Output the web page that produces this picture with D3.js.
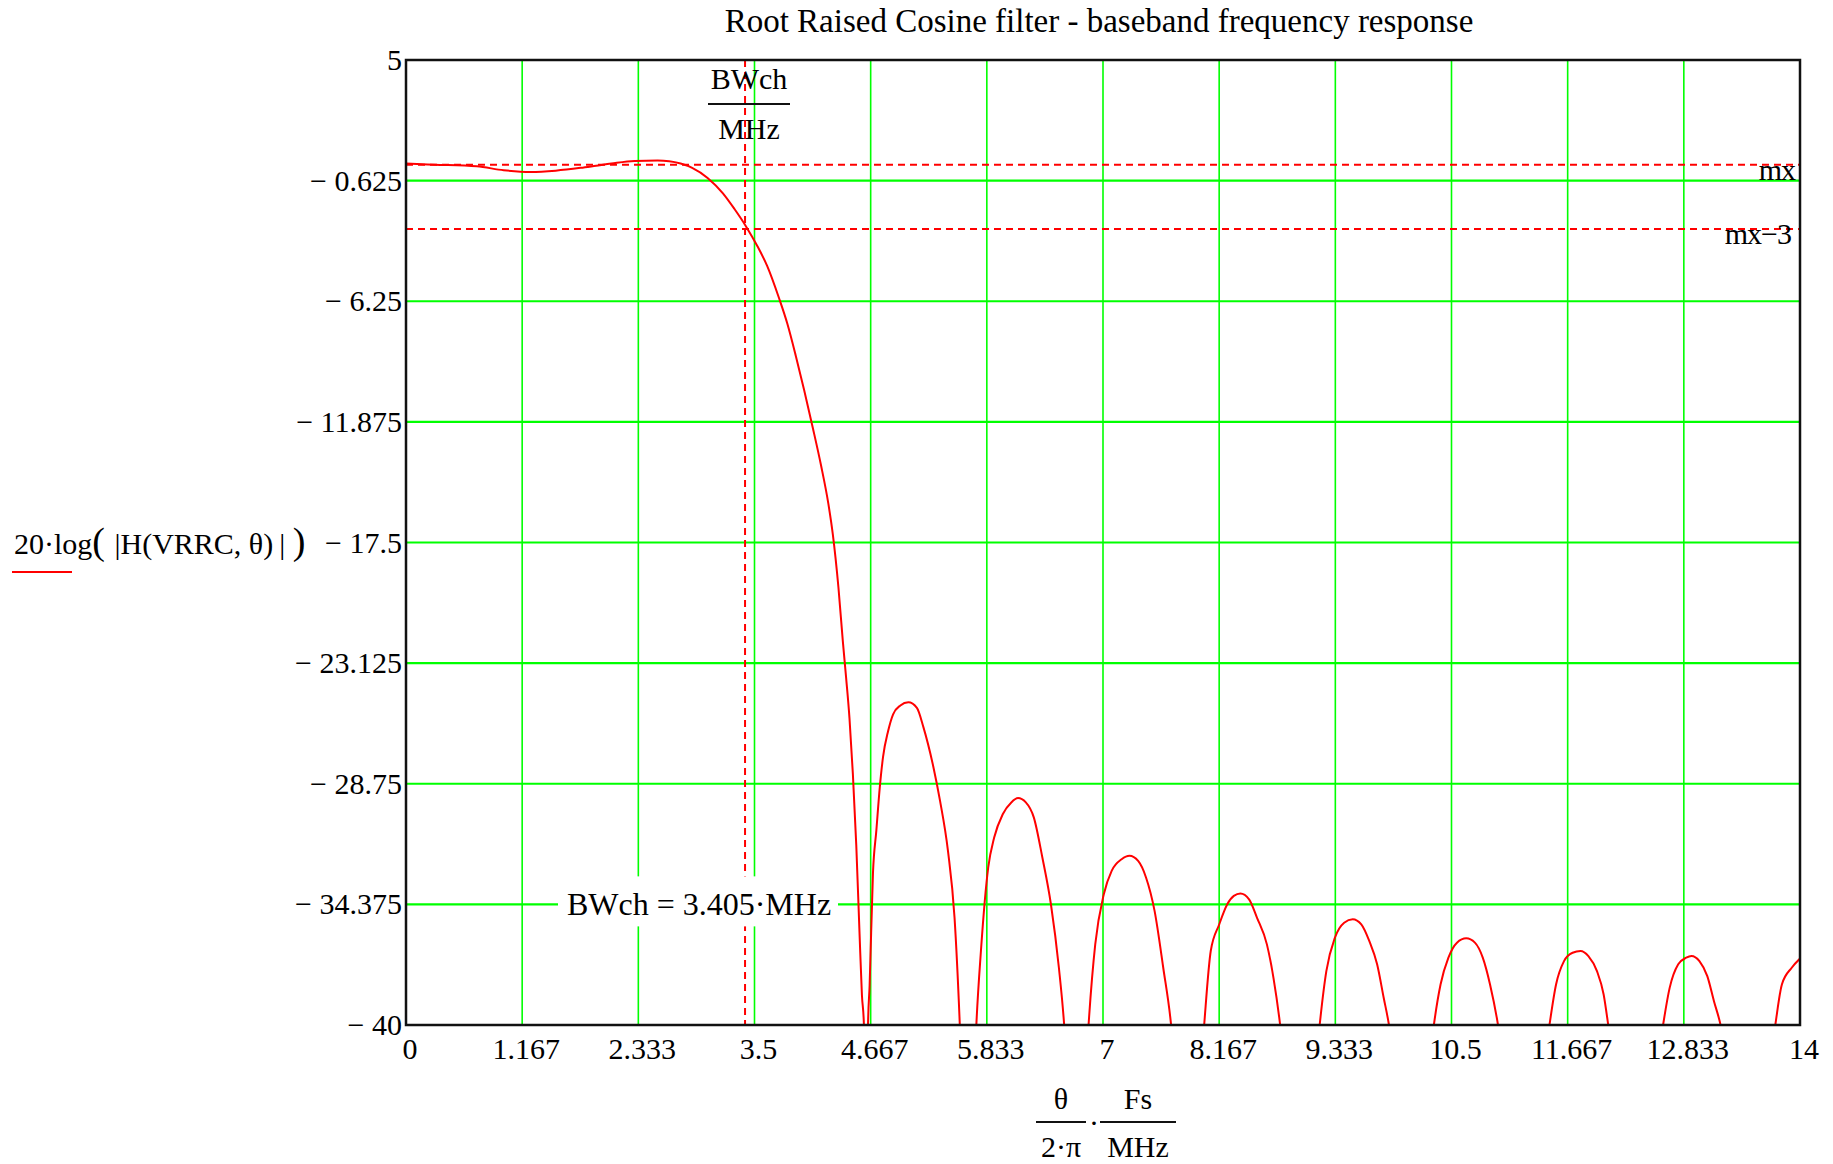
<!DOCTYPE html>
<html>
<head>
<meta charset="utf-8">
<script src="https://cdn.jsdelivr.net/npm/d3@7"></script>
<style>
body { margin: 0; background: #fff; }
text { font-family: "Liberation Serif", "Times New Roman", serif; fill: #000; }
</style>
</head>
<body>
<script>
// frequency (MHz)
const freq = [0, 0.286, 0.711, 0.981, 1.252, 1.503, 1.754, 1.909, 2.063, 2.295, 2.527, 2.643, 2.758, 2.874,
    3.029, 3.183, 3.299, 3.415, 3.531, 3.627, 3.746, 3.83, 3.915, 3.999, 4.083, 4.168, 4.242, 4.286, 4.343,
    4.387, 4.42, 4.454, 4.488, 4.522, 4.555, 4.579, 4.599, 4.62, 4.64, 4.656, 4.69, 4.724, 4.758, 4.791,
    4.842, 4.892, 4.965, 5.045, 5.131, 5.197, 5.297, 5.363, 5.443, 5.509, 5.562, 5.645, 5.728, 5.774,
    5.847, 5.907, 5.993, 6.079, 6.146, 6.225, 6.305, 6.391, 6.477, 6.557, 6.61, 6.73, 6.855, 6.922,
    7.008, 7.087, 7.187, 7.266, 7.353, 7.432, 7.518, 7.605, 7.684, 7.85, 8.016, 8.082, 8.168, 8.248,
    8.314, 8.38, 8.467, 8.546, 8.646, 8.712, 8.779, 8.98, 9.176, 9.243, 9.329, 9.422, 9.508, 9.594,
    9.674, 9.753, 9.819, 9.872, 10.1, 10.323, 10.39, 10.469, 10.555, 10.648, 10.735, 10.814, 10.887,
    10.967, 11.22, 11.484, 11.55, 11.63, 11.716, 11.796, 11.875, 11.961, 12.028, 12.074, 12.35, 12.625,
    12.691, 12.777, 12.857, 12.91, 12.99, 13.069, 13.136, 13.202, 13.48, 13.752, 13.818, 13.917, 14];

// 20*log|H| in dB, same order as freq (values under -40 are the nulls, clipped by the frame)
const gainDb = [0.17, 0.12, 0.04, -0.14, -0.22, -0.16, -0.03, 0.07, 0.17, 0.29, 0.31, 0.28, 0.17, -0.03,
    -0.5, -1.22, -1.95, -2.76, -3.7, -4.6, -6.1, -7.3, -8.8, -10.4, -12.1, -13.9, -15.7, -17.1, -19.6,
    -22.1, -23.8, -25.7, -28.3, -31.6, -35.75, -38.61, -40, -52, -40, -38.17, -32.89, -30.91, -28.93, -27.5,
    -26.29, -25.51, -25.1, -24.95, -25.21, -26.12, -27.98, -29.54, -31.88, -34.99, -40, -52, -40, -36.55,
    -32.66, -31.26, -30.17, -29.62, -29.42, -29.62, -30.32, -32.19, -34.37, -37.33, -40, -52, -40, -36.24,
    -33.9, -32.81, -32.27, -32.11, -32.35, -33.12, -34.68, -37.33, -40, -52, -40, -36.55, -35.3, -34.37,
    -33.98, -33.87, -34.14, -34.99, -36.24, -37.8, -40, -52, -40, -37.49, -35.93, -35.23, -35.07, -35.31,
    -36.08, -37.17, -38.73, -40, -52, -40, -38.11, -36.86, -36.16, -35.96, -36.16, -36.86, -38.11,
    -40, -52, -40, -38.11, -37.02, -36.63, -36.55, -36.79, -37.49, -38.58, -40, -52, -40,
    -38.27, -37.17, -36.86, -36.78, -37.02, -37.72, -38.89, -40, -52, -40, -38.11, -37.33, -36.9];

const xTickValues = [0, 1.1667, 2.3333, 3.5, 4.6667, 5.8333, 7, 8.1667, 9.3333, 10.5, 11.6667, 12.8333, 14];
const xTickLabels = ["0", "1.167", "2.333", "3.5", "4.667", "5.833", "7", "8.167", "9.333", "10.5", "11.667", "12.833", "14"];
const yTickValues = [5, -0.625, -6.25, -11.875, -17.5, -23.125, -28.75, -34.375, -40];
const yTickLabels = ["5", "\u2212 0.625", "\u2212 6.25", "\u2212 11.875", "\u2212 17.5", "\u2212 23.125", "\u2212 28.75", "\u2212 34.375", "\u2212 40"];

const bwch = 3.405;   // MHz
const mx = 0.12;      // dB, max marker
const markers = [{value: mx, label: "mx"}, {value: mx - 3, label: "mx\u22123"}];

function main(){
    const canvasWidth = 1833;
    const canvasHeight = 1164;
    const left = 406, right = 1800, top = 60, bottom = 1025;
    const red = "#ff0000";
    const green = "#00ff00";
    const fontSize = 30;

    const svg = d3.select("body").append("svg")
        .attr("width", canvasWidth)
        .attr("height", canvasHeight);

    const xScale = d3.scaleLinear().domain([0, 14]).range([left, right]);
    const yScale = d3.scaleLinear().domain([-40, 5]).range([bottom, top]);

    svg.append("defs").append("clipPath")
        .attr("id", "plotClip")
        .append("rect")
        .attr("x", left).attr("y", top)
        .attr("width", right - left).attr("height", bottom - top);

    svg.append("text")
        .attr("x", 1099)
        .attr("y", 32)
        .attr("text-anchor", "middle")
        .attr("font-size", "33px")
        .text("Root Raised Cosine filter - baseband frequency response");

    // grid
    const grid = svg.append("g");
    grid.selectAll(".vgrid")
        .data(xTickValues.slice(1, -1))
        .enter().append("line")
        .attr("x1", d => xScale(d)).attr("x2", d => xScale(d))
        .attr("y1", top).attr("y2", bottom)
        .attr("stroke", green).attr("stroke-width", 1.6);
    grid.selectAll(".hgrid")
        .data(yTickValues.slice(1, -1))
        .enter().append("line")
        .attr("x1", left).attr("x2", right)
        .attr("y1", d => yScale(d)).attr("y2", d => yScale(d))
        .attr("stroke", green).attr("stroke-width", 2.2);

    // markers: dashed lines
    const mk = svg.append("g").attr("clip-path", "url(#plotClip)");
    mk.selectAll(".hmark")
        .data(markers)
        .enter().append("line")
        .attr("x1", left).attr("x2", right)
        .attr("y1", d => yScale(d.value)).attr("y2", d => yScale(d.value))
        .attr("stroke", red).attr("stroke-width", 2)
        .attr("stroke-dasharray", "7,5");
    mk.append("line")
        .attr("x1", xScale(bwch)).attr("x2", xScale(bwch))
        .attr("y1", top).attr("y2", bottom)
        .attr("stroke", red).attr("stroke-width", 2)
        .attr("stroke-dasharray", "7,5");

    svg.selectAll(".mklabel")
        .data(markers)
        .enter().append("text")
        .attr("x", (d, i) => right - 5 - i * 4)
        .attr("y", d => yScale(d.value) + 15)
        .attr("text-anchor", "end")
        .attr("font-size", fontSize + "px")
        .attr("letter-spacing", "-1px")
        .text(d => d.label);

    // BWch value box
    const note = svg.append("g");
    note.append("rect")
        .attr("x", 558).attr("y", yScale(-34.375) - 28)
        .attr("width", 280).attr("height", 50)
        .attr("fill", "#fff");
    note.append("text")
        .attr("x", 699).attr("y", yScale(-34.375) + 11)
        .attr("text-anchor", "middle")
        .attr("font-size", "32px")
        .text("BWch = " + bwch.toFixed(3) + "\u00b7MHz");

    // response curve
    const points = freq.map((f, i) => [f, gainDb[i]]);
    const line = d3.line()
        .curve(d3.curveMonotoneX)
        .x(d => xScale(d[0]))
        .y(d => yScale(d[1]));
    svg.append("g").attr("clip-path", "url(#plotClip)")
        .append("path")
        .datum(points)
        .attr("d", line)
        .attr("fill", "none")
        .attr("stroke", red)
        .attr("stroke-width", 2);

    // frame
    svg.append("rect")
        .attr("x", left).attr("y", top)
        .attr("width", right - left).attr("height", bottom - top)
        .attr("fill", "none")
        .attr("stroke", "#111")
        .attr("stroke-width", 2.5);

    // tick labels
    svg.selectAll(".ylab")
        .data(yTickValues)
        .enter().append("text")
        .attr("x", left - 4)
        .attr("y", d => yScale(d) + 10)
        .attr("text-anchor", "end")
        .attr("font-size", fontSize + "px")
        .text((d, i) => yTickLabels[i]);
    svg.selectAll(".xlab")
        .data(xTickValues)
        .enter().append("text")
        .attr("x", d => xScale(d) + 4)
        .attr("y", bottom + 34)
        .attr("text-anchor", "middle")
        .attr("font-size", fontSize + "px")
        .text((d, i) => xTickLabels[i]);

    // y axis expression
    const ylab = svg.append("text")
        .attr("x", 14)
        .attr("y", 554)
        .attr("font-size", fontSize + "px");
    ylab.append("tspan").text("20\u00b7log");
    ylab.append("tspan").attr("font-size", "38px").text("( ");
    ylab.append("tspan").text("|H(VRRC, \u03b8)\u2009|");
    ylab.append("tspan").attr("font-size", "38px").text("\u2009)");
    svg.append("line")
        .attr("x1", 12).attr("x2", 72)
        .attr("y1", 572).attr("y2", 572)
        .attr("stroke", red).attr("stroke-width", 2);

    // fractions: BWch/MHz at top, theta/(2 pi) * Fs/MHz below
    function fraction(cx, yNum, yBar, yDen, halfWidth, num, den){
        svg.append("text").attr("x", cx).attr("y", yNum)
            .attr("text-anchor", "middle").attr("font-size", fontSize + "px").text(num);
        svg.append("line").attr("x1", cx - halfWidth).attr("x2", cx + halfWidth)
            .attr("y1", yBar).attr("y2", yBar)
            .attr("stroke", "#111").attr("stroke-width", 2);
        svg.append("text").attr("x", cx).attr("y", yDen)
            .attr("text-anchor", "middle").attr("font-size", fontSize + "px").text(den);
    }
    fraction(749, 89, 104, 139, 41, "BWch", "MHz");
    fraction(1061, 1109, 1122, 1157, 25, "\u03b8", "2\u00b7\u03c0");
    svg.append("text").attr("x", 1094).attr("y", 1133)
        .attr("text-anchor", "middle").attr("font-size", fontSize + "px").text("\u00b7");
    fraction(1138, 1109, 1122, 1157, 38, "Fs", "MHz");
}
main();
</script>
</body>
</html>
